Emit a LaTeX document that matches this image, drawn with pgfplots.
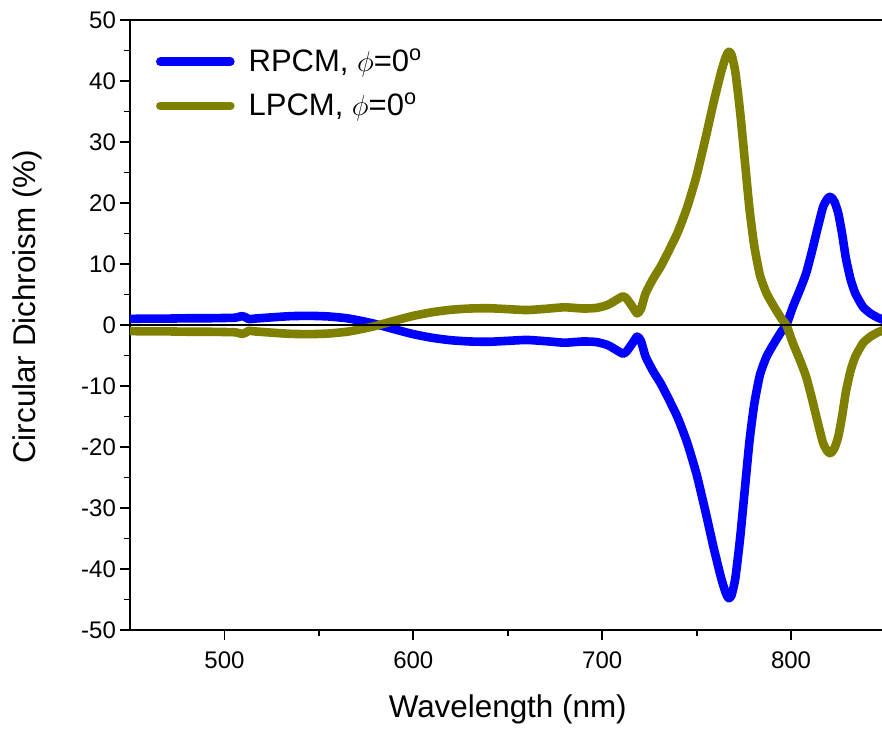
\documentclass[border=0pt]{standalone}
\usepackage{fontspec}
\setmainfont{Liberation Sans}
\usepackage{pgfplots}
\usepackage{pgfplotstable}
\pgfplotsset{compat=1.18}
\definecolor{cdblue}{RGB}{0,0,255}
\definecolor{cdolive}{RGB}{128,128,0}

\pgfplotstableread{
wl rpcm lpcm
450 1.0 -1.0
460 1.05 -1.05
470 1.05 -1.05
480 1.1 -1.1
490 1.1 -1.1
500 1.15 -1.15
506 1.2 -1.2
509 1.45 -1.45
511 1.3 -1.3
513 0.95 -0.95
516 1.05 -1.05
525 1.25 -1.25
535 1.45 -1.45
545 1.5 -1.5
555 1.4 -1.4
565 1.1 -1.1
572 0.7 -0.7
578 0.3 -0.3
583 -0.1 0.1
590 -0.7 0.7
600 -1.5 1.5
610 -2.1 2.1
620 -2.5 2.5
630 -2.7 2.7
640 -2.75 2.75
650 -2.6 2.6
660 -2.45 2.45
670 -2.65 2.65
680 -2.9 2.9
690 -2.7 2.7
697 -2.8 2.8
703 -3.3 3.3
708 -4.2 4.2
711 -4.7 4.7
713 -4.3 4.3
716 -3.0 3.0
718.5 -1.9 1.9
720.5 -2.6 2.6
723 -5.2 5.2
727 -7.6 7.6
731 -9.6 9.6
735 -12 12
740 -15.2 15.2
745 -19.3 19.3
750 -24.5 24.5
755 -31 31
759 -36.5 36.5
763 -41.5 41.5
765.5 -44 44
767 -44.8 44.8
768.5 -44.3 44.3
770.5 -41.5 41.5
773 -35 35
775.5 -27 27
778 -19 19
780.5 -13 13
783.5 -8.2 8.2
787 -5.2 5.2
791 -3 3
795 -1 1
797.5 0 0
801 3 -3
805 6 -6
808 8.5 -8.5
811 12 -12
814 15.8 -15.8
817 19.4 -19.4
819.5 20.8 -20.8
821 21 -21
823 20.2 -20.2
825 18.3 -18.3
827 15 -15
829 11 -11
831.5 7.5 -7.5
834 5.2 -5.2
838 3 -3
842 1.9 -1.9
846 1.2 -1.2
850 0.7 -0.7
}\cddata

\begin{document}
\begin{tikzpicture}
\begin{axis}[
  name=ax,
  scale only axis,
  width=377.75pt, height=305pt,
  xmin=450, xmax=850, ymin=-50, ymax=50,
  axis x line*=box, axis y line*=left,
  xtick pos=lower, ytick pos=left,
  xtick={500,600,700,800}, ytick={-50,-40,...,50},
  minor x tick num=1, minor y tick num=1,
  tick align=outside,
  major tick length=5pt, minor tick length=3pt,
  every tick/.style={black, line width=0.9pt},
  axis line style={black, line width=0.9pt},
  /pgf/number format/assume math mode=true,
  ticklabel style={font=\fontsize{12}{14}\selectfont},
  yticklabel style={xshift=1.5pt},
  xticklabel style={yshift=-2.5pt},
  xlabel={Wavelength (nm)},
  ylabel={Circular Dichroism (\%)},
  xlabel style={at={(axis description cs:0.5,-0.1303)}, anchor=center, font=\fontsize{15.7}{18}\selectfont},
  ylabel style={at={(axis description cs:-0.1357,0.530)}, anchor=center, font=\fontsize{15.7}{18}\selectfont},
  legend cell align=left,
  legend image code/.code={\draw[#1, line cap=round] (0pt,0pt) -- (35pt,0pt);},
  legend style={at={(axis description cs:0.026,0.966)}, anchor=north west, draw=none, fill=none,
    font=\fontsize{15.5}{18}\selectfont, row sep=5.5pt,
    /tikz/every odd column/.append style={column sep=5pt}},
]
\addplot[cdblue, line width=4.3pt, line join=round, line cap=round, smooth, tension=0.35] table[x=wl, y=rpcm] {\cddata};
\addlegendentry{RPCM, $\phi$=0\textsuperscript{o}}
\addplot[cdolive, line width=4.3pt, line join=round, line cap=round, smooth, tension=0.35] table[x=wl, y=lpcm] {\cddata};
\addlegendentry{LPCM, $\phi$=0\textsuperscript{o}}
\addplot[black, line width=0.8pt, forget plot] coordinates {(450,0) (850,0)};
\end{axis}
\pgfresetboundingbox
\path ([shift={(-65pt,-50.5pt)}]ax.south west) rectangle ([shift={(376pt,315pt)}]ax.south west);
\end{tikzpicture}
\end{document}
